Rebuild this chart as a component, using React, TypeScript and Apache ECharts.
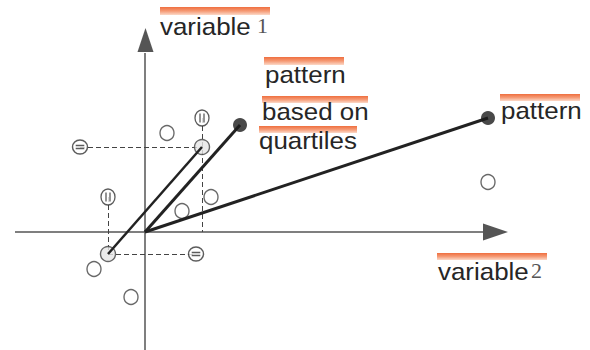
import React, { useEffect, useRef } from "react";
import * as echarts from "echarts";

// Data (units: origin of the two variables at 0,0)
const origin: [number, number] = [0, 0];
const plainPoints: [number, number][] = [
  [2.2, 9.9],
  [34.3, 5.0],
  [3.7, 2.1],
  [6.6, 3.5],
  [-5.1, -3.7],
  [-1.4, -6.5],
];
const quartileUpper: [number, number] = [5.7, 8.5];
const quartileLower: [number, number] = [-3.7, -2.2];
const verticalMarkPoints: [number, number][] = [
  [5.7, 11.4],
  [-3.7, 3.5],
];
const horizontalMarkPoints: [number, number][] = [
  [-6.5, 8.5],
  [5.1, -2.2],
];
const quartilePattern: [number, number] = [9.5, 10.7];
const pattern: [number, number] = [34.3, 11.4];
const xAxisExtent: [number, number] = [-13, 33.8];
const yAxisExtent: [number, number] = [-11.8, 17.9];
const xArrow: [number, number] = [35.05, 0];
const yArrow: [number, number] = [0.05, 19.2];

const labels = {
  var1: "variable",
  var1Digit: "1",
  var2: "variable",
  var2Digit: "2",
  patternQ: ["pattern", "based on", "quartiles"],
  pattern: "pattern",
};

const vStripe =
  "path://M7,0A7,7,0,1,1,7,14A7,7,0,1,1,7,0ZM5,3L5,11M9,3L9,11";
const hStripe =
  "path://M7,0A7,7,0,1,1,7,14A7,7,0,1,1,7,0ZM3,5.5L11,5.5M3,8.5L11,8.5";

const barGradient = () =>
  new echarts.graphic.LinearGradient(0, 0, 0, 1, [
    { offset: 0, color: "#ef6e3e" },
    { offset: 0.5, color: "#f59a75" },
    { offset: 1, color: "#fcd9c8" },
  ]);

function labelWithBar(
  text: string,
  x: number,
  y: number,
  barX: number,
  barY: number,
  barW: number,
  barH: number
) {
  return [
    {
      type: "rect",
      shape: { x: barX, y: barY, width: barW, height: barH },
      style: { fill: barGradient() },
      silent: true,
    },
    {
      type: "text",
      x,
      y,
      scaleX: 1.08,
      style: {
        text,
        fontFamily: "Liberation Sans",
        fontSize: 24,
        fill: "#262626",
        verticalAlign: "top",
      },
      silent: true,
    },
  ];
}

function digit(text: string, x: number, y: number) {
  return {
    type: "text",
    x,
    y,
    style: {
      text,
      fontFamily: "Liberation Serif",
      fontSize: 22,
      fill: "#555",
      verticalAlign: "top",
    },
    silent: true,
  };
}

export default function App() {
  const ref = useRef<HTMLDivElement>(null);
  useEffect(() => {
    document.body.style.margin = "0";
    const chart = echarts.init(ref.current!, undefined, { renderer: "svg" });
    const guideSegments = [
      [horizontalMarkPoints[0], quartileUpper],
      [verticalMarkPoints[0], [quartileUpper[0], 0]],
      [verticalMarkPoints[1], quartileLower],
      [quartileLower, horizontalMarkPoints[1]],
    ];
    chart.setOption({
      animation: false,
      backgroundColor: "#ffffff",
      grid: { left: 0, right: 0, top: 0, bottom: 0 },
      xAxis: { type: "value", min: -14.5, max: 44.5, show: false },
      yAxis: { type: "value", min: -11.8, max: 23.2, show: false },
      series: [
        {
          type: "lines",
          coordinateSystem: "cartesian2d",
          z: 1,
          data: [
            { coords: [[xAxisExtent[0], 0], [xAxisExtent[1], 0]] },
            { coords: [[0, yAxisExtent[0]], [0, yAxisExtent[1]]] },
          ],
          lineStyle: { color: "#555", width: 1.5, opacity: 1 },
        },
        {
          type: "scatter",
          z: 1,
          data: [
            { value: xArrow, symbolRotate: -90, symbolSize: [17, 25] },
            { value: yArrow, symbolRotate: 0, symbolSize: [16, 24] },
          ],
          symbol: "triangle",
          itemStyle: { color: "#2a2a2a" },
        },
        {
          type: "lines",
          coordinateSystem: "cartesian2d",
          z: 2,
          data: guideSegments.map((s) => ({ coords: s })),
          lineStyle: { color: "#444", width: 1, type: [5, 3], opacity: 1 },
        },
        {
          type: "scatter",
          z: 3,
          data: plainPoints,
          symbol: "circle",
          symbolSize: [14, 15],
          itemStyle: { color: "#fff", borderColor: "#444", borderWidth: 1.4 },
        },
        {
          type: "scatter",
          z: 3,
          data: [quartileUpper, quartileLower],
          symbol: "circle",
          symbolSize: [15, 15],
          itemStyle: { color: "#e6e6e6", borderColor: "#444", borderWidth: 1.4 },
        },
        {
          type: "scatter",
          z: 3,
          data: verticalMarkPoints,
          symbol: vStripe,
          symbolSize: [14, 16],
          itemStyle: { color: "#fff", borderColor: "#333", borderWidth: 1.4 },
        },
        {
          type: "scatter",
          z: 3,
          data: horizontalMarkPoints,
          symbol: hStripe,
          symbolSize: [15, 14],
          itemStyle: { color: "#fff", borderColor: "#333", borderWidth: 1.4 },
        },
        {
          type: "lines",
          coordinateSystem: "cartesian2d",
          z: 4,
          data: [
            { coords: [quartileLower, quartileUpper], lineStyle: { width: 2.5 } },
            { coords: [origin, quartilePattern] },
            { coords: [origin, pattern] },
          ],
          lineStyle: { color: "#222", width: 3, opacity: 1 },
        },
        {
          type: "scatter",
          z: 5,
          data: [quartilePattern, pattern],
          symbol: "circle",
          symbolSize: 14,
          itemStyle: { color: "#1c1c1c" },
        },
      ],
      graphic: [
        ...labelWithBar(labels.var1, 160, 14, 160, 7, 110, 8),
        digit(labels.var1Digit, 257, 14),
        ...labelWithBar(labels.patternQ[0], 265, 62, 264, 57, 80, 8),
        ...labelWithBar(labels.patternQ[1], 262, 99, 262, 96, 106, 7),
        ...labelWithBar(labels.patternQ[2], 259, 128, 259, 126, 98, 7),
        ...labelWithBar(labels.pattern, 501, 98, 500, 94, 80, 7),
        ...labelWithBar(labels.var2, 438, 259, 437, 253, 110, 7),
        digit(labels.var2Digit, 531, 259),
      ],
    });
    return () => chart.dispose();
  }, []);
  return <div ref={ref} style={{ width: 590, height: 350 }} />;
}
